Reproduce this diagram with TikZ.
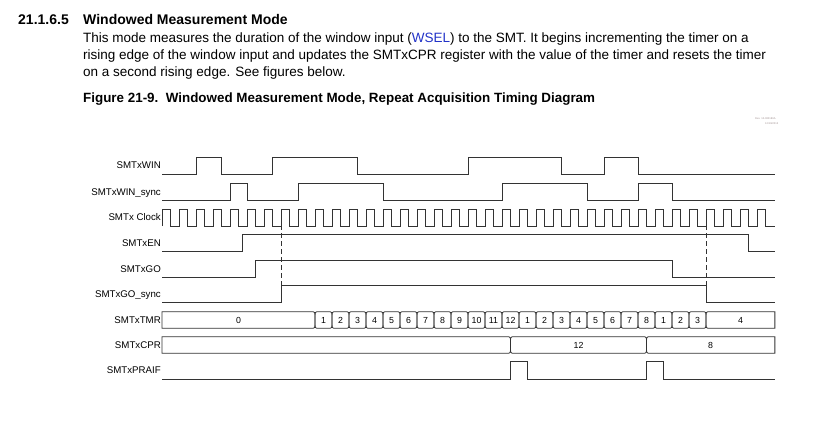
\documentclass[tikz,border=0pt]{standalone}
\usepackage{fontspec}
\setmainfont{Liberation Sans}
\usepackage{xcolor}
\definecolor{wave-line}{HTML}{333333}
\definecolor{link-blue}{HTML}{2233C8}
\definecolor{rev-gray}{HTML}{A09090}
\def\bd{0.1}

\begin{document}
\begin{tikzpicture}[x=1pt, y=-1pt, every node/.style={inner sep=0pt},
    sig/.style={draw=wave-line, line width=0.8pt},
    siglabel/.style={anchor=base east, font=\fontsize{9.7}{11}\selectfont},
    val/.style={anchor=base, font=\fontsize{8.8}{10}\selectfont},
    textline/.style={anchor=base west, font=\fontsize{13.5}{17}\selectfont},
    headline/.style={anchor=base west, font=\bfseries\fontsize{14}{17}\selectfont}]
  \useasboundingbox (0, 0) rectangle (816, 434);
  \node[headline] (secnum) at (18, 24) {21.1.6.5};
  \node[headline] (sectitle) at (83, 24) {Windowed Measurement Mode};
  \node[textline] (body1) at (83, 42.5) {This mode measures the duration of the window input (\textcolor{link-blue}{WSEL}) to the SMT. It begins incrementing the timer on a};
  \node[textline] (body2) at (83, 59.5) {rising edge of the window input and updates the SMTxCPR register with the value of the timer and resets the timer};
  \node[textline] (body3) at (83, 76.5) {on a second rising edge. See figures below.};
  \node[headline, font=\bfseries\fontsize{13.4}{16}\selectfont] (figcap) at (83, 102.5) {Figure 21-9.\ \ Windowed Measurement Mode, Repeat Acquisition Timing Diagram};
  \node[anchor=base west, font=\fontsize{2.6}{3}\selectfont, text=rev-gray] (rev1) at (755, 119) {Rev. 10-000186A};
  \node[anchor=base west, font=\fontsize{2.6}{3}\selectfont, text=rev-gray] (rev2) at (765, 124) {12/19/2013};

  \node[siglabel] (lwin) at (161, 168.9) {SMTxWIN};
  \node[siglabel] (lwsync) at (161, 195.2) {SMTxWIN\_sync};
  \node[siglabel] (lclk) at (161, 220.9) {SMTx Clock};
  \node[siglabel] (len) at (161, 246.4) {SMTxEN};
  \node[siglabel] (lgo) at (161, 272.1) {SMTxGO};
  \node[siglabel] (lgsync) at (161, 297.6) {SMTxGO\_sync};
  \node[siglabel] (ltmr) at (161, 323.4) {SMTxTMR};
  \node[siglabel] (lcpr) at (161, 348.4) {SMTxCPR};
  \node[siglabel] (lpraif) at (161, 373.7) {SMTxPRAIF};

  \begin{scope}[xshift=162pt, x=17pt]
    \draw[sig] (0, 174) -- (2, 174) -- (2, 157) -- (3.5, 157) -- (3.5, 174) -- (6.5, 174)
      -- (6.5, 157) -- (11.5, 157) -- (11.5, 174) -- (18, 174) -- (18, 157) -- (23.5, 157)
      -- (23.5, 174) -- (26, 174) -- (26, 157) -- (28, 157) -- (28, 174) -- (36.05, 174);
    \draw[sig] (0, 200.5) -- (4, 200.5) -- (4, 183) -- (5, 183) -- (5, 200.5) -- (8, 200.5)
      -- (8, 183) -- (13, 183) -- (13, 200.5) -- (20, 200.5) -- (20, 183) -- (25, 183)
      -- (25, 200.5) -- (28, 200.5) -- (28, 183) -- (30, 183) -- (30, 200.5) -- (36.05, 200.5);
    \draw[sig] (0, 226) \foreach \k in {0,...,35} { -- (\k, 226) -- (\k, 209) -- (\k+0.5, 209) -- (\k+0.5, 226) } -- (36.05, 226);
    \draw[sig] (0, 251.7) -- (4.72, 251.7) -- (4.72, 234.3) -- (34.5, 234.3) -- (34.5, 251.7) -- (36.05, 251.7);
    \draw[sig] (0, 277.3) -- (5.5, 277.3) -- (5.5, 260) -- (30, 260) -- (30, 277.3) -- (36.05, 277.3);
    \draw[sig] (0, 302.7) -- (7, 302.7) -- (7, 285.7) -- (32, 285.7) -- (32, 302.7) -- (36.05, 302.7);
    \draw[sig, dash pattern=on 5pt off 3pt] (7, 209) -- (7, 285.7);
    \draw[sig, dash pattern=on 5pt off 3pt] (32, 209) -- (32, 285.7);

    \draw[sig] (0, 311.7) -- (9-\bd, 311.7) .. controls (9, 311.7) .. (9, 320)
      .. controls (9, 328.3) .. (9-\bd, 328.3) -- (0, 328.3) -- cycle;
    \node[val] (tmr0) at (4.5, 323.1) {0};
    \foreach \a/\v [count=\i] in {9/1,10/2,11/3,12/4,13/5,14/6,15/7,16/8,17/9,18/10,19/11,20/12,
        21/1,22/2,23/3,24/4,25/5,26/6,27/7,28/8,29/1,30/2,31/3} {
      \draw[sig] (\a+\bd, 311.7) -- (\a+1-\bd, 311.7) .. controls (\a+1, 311.7) .. (\a+1, 320)
        .. controls (\a+1, 328.3) .. (\a+1-\bd, 328.3) -- (\a+\bd, 328.3)
        .. controls (\a, 328.3) .. (\a, 320) .. controls (\a, 311.7) .. (\a+\bd, 311.7) -- cycle;
      \node[val] (tmrc\i) at (\a+0.5, 323.1) {\v};
    }
    \draw[sig] (32+\bd, 311.7) -- (36.05, 311.7) -- (36.05, 328.3) -- (32+\bd, 328.3)
      .. controls (32, 328.3) .. (32, 320) .. controls (32, 311.7) .. (32+\bd, 311.7) -- cycle;
    \node[val] (tmrlast) at (34.03, 323.1) {4};

    \draw[sig] (0, 336.7) -- (20.5-\bd, 336.7) .. controls (20.5, 336.7) .. (20.5, 345)
      .. controls (20.5, 353.3) .. (20.5-\bd, 353.3) -- (0, 353.3) -- cycle;
    \draw[sig] (20.5+\bd, 336.7) -- (28.5-\bd, 336.7) .. controls (28.5, 336.7) .. (28.5, 345)
      .. controls (28.5, 353.3) .. (28.5-\bd, 353.3) -- (20.5+\bd, 353.3)
      .. controls (20.5, 353.3) .. (20.5, 345) .. controls (20.5, 336.7) .. (20.5+\bd, 336.7) -- cycle;
    \node[val] (cpr12) at (24.5, 348.1) {12};
    \draw[sig] (28.5+\bd, 336.7) -- (36.05, 336.7) -- (36.05, 353.3) -- (28.5+\bd, 353.3)
      .. controls (28.5, 353.3) .. (28.5, 345) .. controls (28.5, 336.7) .. (28.5+\bd, 336.7) -- cycle;
    \node[val] (cpr8) at (32.27, 348.1) {8};

    \draw[sig] (0, 379) -- (20.5, 379) -- (20.5, 361.7) -- (21.5, 361.7) -- (21.5, 379) -- (28.5, 379)
      -- (28.5, 361.7) -- (29.5, 361.7) -- (29.5, 379) -- (36.05, 379);
  \end{scope}
\end{tikzpicture}
\end{document}
